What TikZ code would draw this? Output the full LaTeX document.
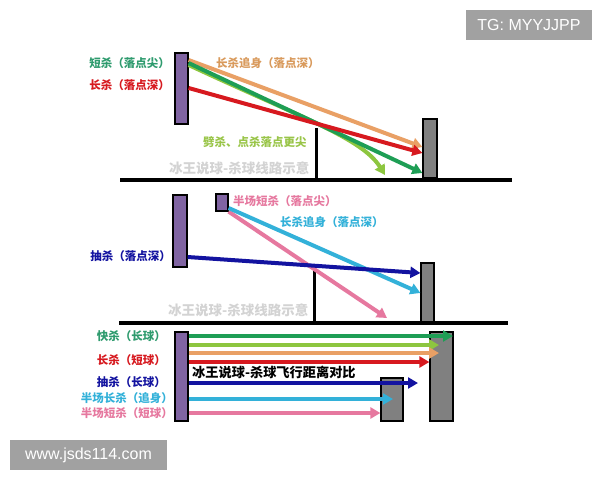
\documentclass[tikz,border=0pt]{standalone}
\usepackage{fontspec}
\setmainfont{Liberation Sans}
\newfontfamily\cjk{Noto Sans CJK SC}
\usetikzlibrary{arrows.meta}
\definecolor{pfill}{HTML}{8064A2}
\definecolor{gfill}{HTML}{808080}
\definecolor{cdgreen}{HTML}{1E9E55}
\definecolor{clgreen}{HTML}{8DC63F}
\definecolor{corange}{HTML}{E9A065}
\definecolor{cred}{HTML}{D7191F}
\definecolor{cblue}{HTML}{1313A0}
\definecolor{ccyan}{HTML}{33B1D9}
\definecolor{cpink}{HTML}{E6789F}
\definecolor{tteal}{HTML}{2E9B6E}
\definecolor{torange}{HTML}{D99A5C}
\definecolor{tlgreen}{HTML}{99C548}
\definecolor{wmark}{HTML}{A6A6A6}
\tikzset{
  pbar/.style={draw=black, line width=1.2pt, fill=pfill, inner sep=0pt},
  gbar/.style={draw=black, line width=1.2pt, fill=gfill, inner sep=0pt},
  arr/.style={line width=4pt, -{Triangle[length=10pt,width=11pt]}},
  ground/.style={line width=4pt, black},
  netline/.style={line width=3pt, black},
  lab/.style={font=\cjk\bfseries\fontsize{11.5}{13}\selectfont, inner sep=0pt, anchor=east},
  wm/.style={font=\cjk\bfseries\fontsize{13.5}{15}\selectfont, text=wmark!50, inner sep=0pt, anchor=west},
  badge/.style={fill=black!37, text=white, inner sep=0pt, font=\fontsize{16}{18}\selectfont}
}
\begin{document}
\begin{tikzpicture}[x=1pt,y=-1pt]
\useasboundingbox[fill=white] (0,0) rectangle (600,480);
% badges
\node[badge, minimum width=126pt, minimum height=30pt] (tg) at (529,25) {TG: MYYJJPP};
\node[badge, minimum width=157pt, minimum height=30pt] (www) at (88.5,455) {www.jsds114.com};

% ===== top panel =====
\coordinate (g1l) at (120,180); \coordinate (g1r) at (512,180);
\draw[ground] (g1l) -- (g1r);
\coordinate (n1t) at (316,128); \coordinate (n1b) at (316,180);
\draw[netline] (n1t) -- (n1b);
\node[pbar, minimum width=13pt, minimum height=71pt] (p1) at (181.5,88.5) {};
\node[gbar, minimum width=14pt, minimum height=59pt] (r1) at (430,148.5) {};
\node[wm] (w1) at (169,168) {冰王说球-杀球线路示意};
\draw[arr, corange] (p1.east |- 0,60) -- (r1.west |- 0,147);
\draw[arr, clgreen] (p1.east |- 0,65) .. controls (300,117) and (362,138) .. (385,175);
\draw[arr, cdgreen] (p1.east |- 0,63) -- (r1.west |- 0,173);
\draw[arr, cred] (p1.east |- 0,88) -- (r1.west |- 0,153);
\node[lab, text=tteal] (l1) at (170,63) {短杀（落点尖）};
\node[lab, text=cred] (l2) at (170,85) {长杀（落点深）};
\node[lab, text=torange, anchor=west] (l3) at (216,63) {长杀追身（落点深）};
\node[lab, text=tlgreen, anchor=west] (l4) at (203,142) {劈杀、点杀落点更尖};

% ===== middle panel =====
\coordinate (g2l) at (119,323); \coordinate (g2r) at (508,323);
\draw[ground] (g2l) -- (g2r);
\coordinate (n2t) at (314,271); \coordinate (n2b) at (314,323);
\draw[netline] (n2t) -- (n2b);
\node[pbar, minimum width=14pt, minimum height=72pt] (p2) at (180,231) {};
\node[pbar, minimum width=12pt, minimum height=17pt] (p3) at (222,202.5) {};
\node[gbar, minimum width=13pt, minimum height=59pt] (r2) at (427.5,292.5) {};
\node[wm] (w2) at (168,310) {冰王说球-杀球线路示意};
\draw[arr, cpink] (p3.south east) -- (387,318) coordinate (pk);
\draw[arr, ccyan] (p3.east |- 0,208) -- (r2.west |- 0,293);
\draw[arr, cblue] (p2.east |- 0,257) -- (r2.west |- 0,273);
\node[lab, text=cpink, anchor=west] (l5) at (233,201) {半场短杀（落点尖）};
\node[lab, text=ccyan, anchor=west] (l6) at (280,222) {长杀追身（落点深）};
\node[lab, text=cblue] (l7) at (171,256) {抽杀（落点深）};

% ===== bottom panel =====
\node[pbar, minimum width=13pt, minimum height=89pt] (p4) at (181.5,376.5) {};
\node[gbar, minimum width=23pt, minimum height=89pt] (r3) at (441.5,376.5) {};
\node[gbar, minimum width=22pt, minimum height=43pt] (r4) at (392,399.5) {};
\coordinate (e1) at (453,336);
\coordinate (e2) at (439,345);
\coordinate (e3) at (439,353);
\draw[arr, cdgreen] (p4.east |- 0,336) -- (e1);
\draw[arr, clgreen] (p4.east |- 0,345) -- (e2);
\draw[arr, corange] (p4.east |- 0,353) -- (e3);
\draw[arr, cred] (p4.east |- 0,362) -- (r3.west |- 0,362);
\coordinate (e5) at (418,383);
\draw[arr, cblue] (p4.east |- 0,383) -- (e5);
\coordinate (e6) at (393,399);
\draw[arr, ccyan] (p4.east |- 0,399) -- (e6);
\draw[arr, cpink] (p4.east |- 0,413) -- (r4.west |- 0,413);
\node[font=\cjk\bfseries\fontsize{13.2}{15}\selectfont, inner sep=0pt, anchor=west] (t1) at (192,372) {冰王说球-杀球飞行距离对比};
\node[lab, text=tteal] (l8) at (166,336) {快杀（长球）};
\node[lab, text=cred] (l9) at (166,360) {长杀（短球）};
\node[lab, text=cblue] (l10) at (166,382) {抽杀（长球）};
\node[lab, text=ccyan] (l11) at (173,398) {半场长杀（追身）};
\node[lab, text=cpink] (l12) at (173,413) {半场短杀（短球）};
\end{tikzpicture}
\end{document}
